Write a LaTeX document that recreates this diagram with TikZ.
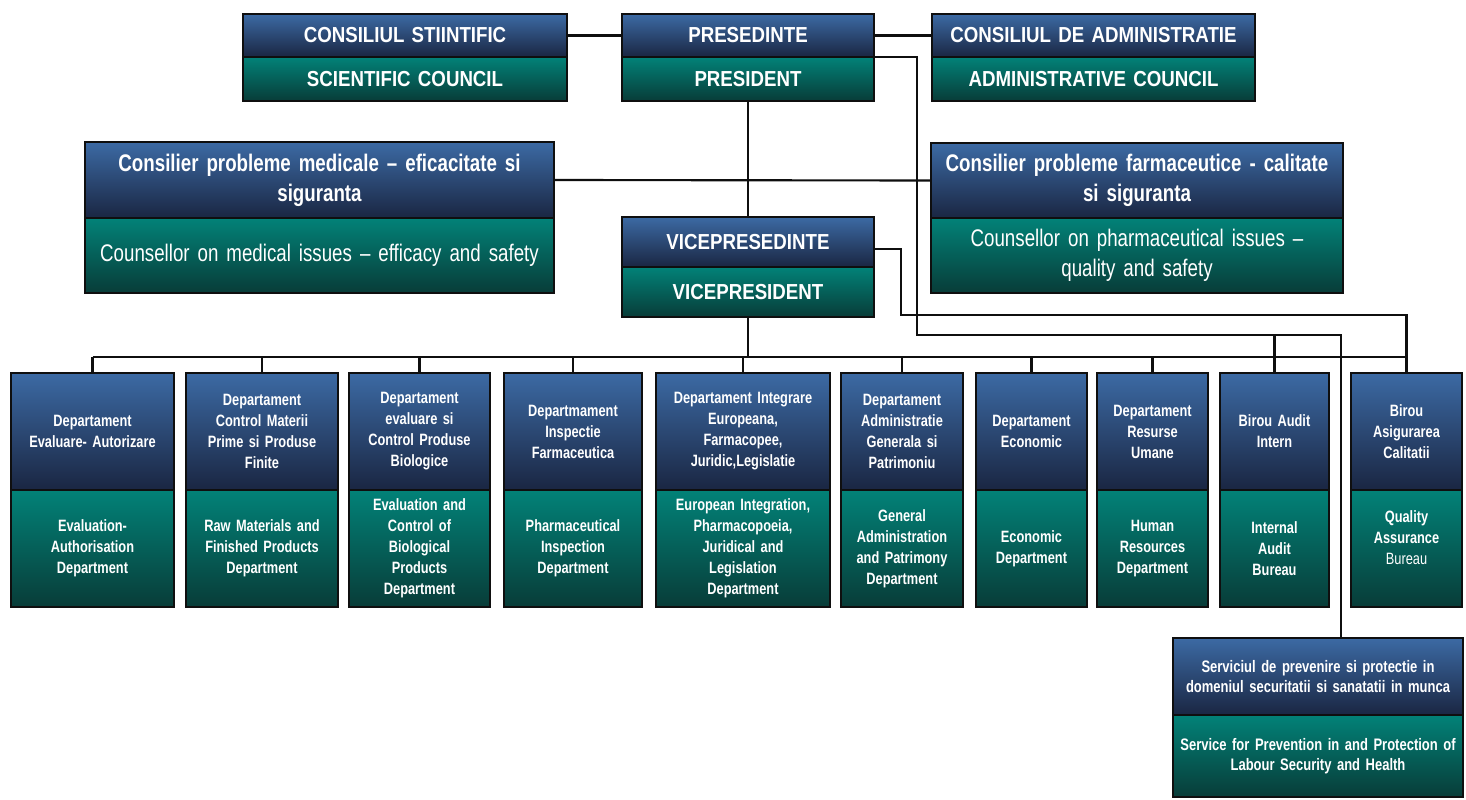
\documentclass[tikz,border=0pt]{standalone}
\usepackage{fontspec}
\setmainfont{Liberation Sans}[FakeStretch=0.86]
\newfontfamily\narrowfont{Liberation Sans}[FakeStretch=0.78]

\definecolor{orgBlueTop}{RGB}{60,106,164}
\definecolor{orgBlueBot}{RGB}{26,38,66}
\definecolor{orgTealTop}{RGB}{2,130,120}
\definecolor{orgTealBot}{RGB}{8,60,56}
\definecolor{orgLine}{RGB}{15,15,15}

\newcommand{\hfont}{\fontsize{16.3}{22.5}\selectfont}
\newcommand{\cfont}{\narrowfont\fontsize{18}{22.5}\selectfont}
\newcommand{\dfont}{\narrowfont\fontsize{12.3}{15.75}\selectfont}
\newcommand{\sfont}{\narrowfont\fontsize{12.5}{15}\selectfont}

% two-part box: name, x1, x2, y1, ysplit, y2, top text, bottom text, font
\newcommand{\orgbox}[9]{%
  \pgfmathsetmacro{\orgbw}{(#3-#2)*0.75}%
  \pgfmathsetmacro{\orgtw}{(#3-#2)*0.75-6}%
  \pgfmathsetmacro{\orght}{(#5-#4)*0.75}%
  \pgfmathsetmacro{\orghb}{(#6-#5)*0.75}%
  \node[topbox, font=#9, text width=\orgtw pt, minimum width=\orgbw pt,
        minimum height=\orght pt, anchor=north west] (#1-t) at (#2,#4) {#7};
  \node[botbox, font=#9, text width=\orgtw pt, minimum width=\orgbw pt,
        minimum height=\orghb pt, anchor=north west] (#1-b) at (#2,#5) {#8};
}

\begin{document}
\begin{tikzpicture}[x=0.75pt, y=-0.75pt,
    topbox/.style={draw=orgLine, line width=1.1pt, top color=orgBlueTop,
        bottom color=orgBlueBot, text=white, align=center,
        inner xsep=3pt, inner ysep=0pt, outer sep=0pt},
    botbox/.style={draw=orgLine, line width=1.1pt, top color=orgTealTop,
        bottom color=orgTealBot, text=white, align=center,
        inner xsep=3pt, inner ysep=0pt, outer sep=0pt},
    conn/.style={draw=orgLine, line width=1.6pt}]
\path[use as bounding box, fill=white] (0,0) rectangle (1466,799);
%% ── Top row: councils and president ──────────────────────────────────────
\orgbox{cs}{243}{567}{14}{57}{101}{CONSILIUL STIINTIFIC}{SCIENTIFIC COUNCIL}{\hfont\bfseries}
\orgbox{pres}{622}{874}{14}{57}{101}{PRESEDINTE}{PRESIDENT}{\hfont\bfseries}
\orgbox{cda}{932}{1255}{14}{57}{101}{CONSILIUL DE ADMINISTRATIE}{ADMINISTRATIVE COUNCIL}{\hfont\bfseries}
%% ── Counsellors and vicepresident ────────────────────────────────────────
\orgbox{cmed}{85}{554}{142}{218}{293}{Consilier probleme medicale – eficacitate si\\siguranta}{\mdseries Counsellor on medical issues – efficacy and safety}{\cfont\bfseries}
\orgbox{cfarm}{931}{1343}{143}{218}{293}{Consilier probleme farmaceutice - calitate\\si siguranta}{\mdseries Counsellor on pharmaceutical issues –\\quality and safety}{\cfont\bfseries}
\orgbox{vp}{622}{874}{217}{267}{317}{VICEPRESEDINTE}{VICEPRESIDENT}{\hfont\bfseries}
%% ── Departments ──────────────────────────────────────────────────────────
\orgbox{d1}{11}{174}{373}{490}{607}{Departament\\Evaluare- Autorizare}{Evaluation-\\Authorisation\\Department}{\dfont\bfseries}
\orgbox{d2}{186}{338}{373}{490}{607}{Departament\\Control Materii\\Prime si Produse\\Finite}{Raw Materials and\\Finished Products\\Department}{\dfont\bfseries}
\orgbox{d3}{349}{490}{373}{490}{607}{Departament\\evaluare si\\Control Produse\\Biologice}{Evaluation and\\Control of\\Biological\\Products\\Department}{\dfont\bfseries}
\orgbox{d4}{504}{642}{373}{490}{607}{Departmament\\Inspectie\\Farmaceutica}{Pharmaceutical\\Inspection\\Department}{\dfont\bfseries}
\orgbox{d5}{656}{830}{373}{490}{607}{Departament Integrare\\Europeana,\\Farmacopee,\\Juridic,Legislatie}{European Integration,\\Pharmacopoeia,\\Juridical and\\Legislation\\Department}{\dfont\bfseries}
\orgbox{d6}{841}{963}{373}{490}{607}{Departament\\Administratie\\Generala si\\Patrimoniu}{General\\Administration\\and Patrimony\\Department}{\dfont\bfseries}
\orgbox{d7}{976}{1087}{373}{490}{607}{Departament\\Economic}{Economic\\Department}{\dfont\bfseries}
\orgbox{d8}{1097}{1208}{373}{490}{607}{Departament\\Resurse\\Umane}{Human\\Resources\\Department}{\dfont\bfseries}
\orgbox{d9}{1220}{1329}{373}{490}{607}{Birou Audit\\Intern}{Internal\\Audit\\Bureau}{\dfont\bfseries}
\orgbox{d10}{1351}{1462}{373}{490}{607}{Birou\\Asigurarea\\Calitatii}{Quality\\Assurance\\\mdseries Bureau\\\mbox{}}{\dfont\bfseries}
%% ── Prevention service ───────────────────────────────────────────────────
\orgbox{serv}{1173}{1463}{638}{715}{797}{Serviciul de prevenire si protectie in\\domeniul securitatii si sanatatii in munca}{Service for Prevention in and Protection of\\Labour Security and Health}{\sfont\bfseries}
%% ── Connectors ───────────────────────────────────────────────────────────
\coordinate (busL) at (0,357);
\coordinate (presrun) at (917,335);
\coordinate (servdrop) at (1341,335);
\coordinate (vprun) at (901,315);
\draw[conn] (cs-t.east) -- (pres-t.west);
\draw[conn] (pres-t.east) -- (cda-t.west);
\draw[conn] (pres-b.south) -- (vp-t.north);
\draw[conn] (cmed-t.east) -- (cfarm-t.west);
\draw[conn] (vp-b.south) -- (vp-b.south |- busL);
\draw[conn] (d1-t.north |- busL) -- (d10-t.north |- busL);
\foreach \i in {1,...,10}
  \draw[conn] (d\i-t.north |- busL) -- (d\i-t.north);
\draw[conn] (pres-t.south east) -| (presrun) -- (servdrop) -- (servdrop |- serv-t.north);
\draw[conn] (d9-t.north |- presrun) -- (d9-t.north);
\draw[conn] ([yshift=-5pt]vp-t.east) -| (vprun) -| (d10-t.north);
\end{tikzpicture}
\end{document}
